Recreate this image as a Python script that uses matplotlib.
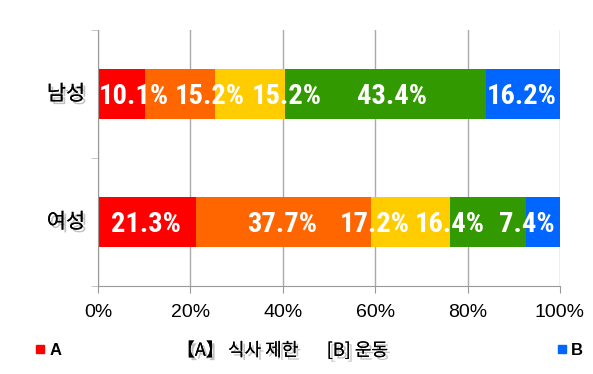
import matplotlib.pyplot as plt
import matplotlib.patheffects as pe
from matplotlib.lines import Line2D
import numpy as np

# data
groups = ['남성', '여성']
men = [10.1, 15.2, 15.2, 43.4, 16.2]
women = [21.3, 37.7, 17.2, 16.4, 7.4]
colors = ['#ff0000', '#ff6600', '#ffcc00', '#339900', '#0066ff']
# label anchor points (percent) as placed in the original chart
men_label_x = [7.8, 24.2, 40.9, 63.6, 91.8]
women_label_x = [10.4, 39.8, 60.0, 76.2, 92.9]
xticks = [0, 20, 40, 60, 80, 100]
xtick_labels = ['0%', '20%', '40%', '60%', '80%', '100%']

fig = plt.figure(figsize=(5.93, 3.74), dpi=100)
ax = fig.add_axes([98 / 593, 88 / 374, 462 / 593, 256 / 374])

shadow = [pe.withSimplePatchShadow(offset=(2, -2), shadow_rgbFace='#999999', alpha=0.6), pe.Normal()]
label_font = ['Roboto Condensed', 'Liberation Sans Narrow', 'Roboto', 'DejaVu Sans']

rows = [(1, men, men_label_x), (0, women, women_label_x)]
for y, vals, lab_x in rows:
    left = 0
    for v, c, lx in zip(vals, colors, lab_x):
        ax.barh(y, v, left=left, height=0.39, color=c, zorder=2)
        ax.text(lx, y - 0.02, f'{v:.1f}%', color='white', ha='center', va='center',
                fontsize=20.5, fontweight='bold', family=label_font, zorder=3)
        left += v

ax.set_xlim(0, 100)
ax.set_ylim(-0.5, 1.5)
ax.set_xticks(xticks)
ax.set_xticklabels(xtick_labels, family='Liberation Sans', fontsize=14)
ax.tick_params(axis='x', length=5, color='#999999', pad=8)
ax.grid(axis='x', color='#aaaaaa', lw=1, zorder=0)

ax.set_yticks([1, 0])
ax.set_yticklabels([])
ax.set_yticks([-0.5, 0.5, 1.5], minor=True)
ax.tick_params(axis='y', which='major', length=0)
ax.tick_params(axis='y', which='minor', length=5, color='#bbbbbb')
for y, g in zip([1, 0], groups):
    ax.text(-2.8, y, g, ha='right', va='center', fontsize=15, style='italic',
            family=['Noto Sans CJK KR', 'DejaVu Sans'], path_effects=shadow,
            transform=ax.transData, clip_on=False)

for s in ['top', 'right']:
    ax.spines[s].set_visible(False)
ax.spines['left'].set_color('#999999')
ax.spines['bottom'].set_color('#999999')

# legend row
h_a = Line2D([], [], marker='s', color=colors[0], ls='', markersize=6)
h_b = Line2D([], [], marker='s', color=colors[4], ls='', markersize=6)
fig.legend([h_a], ['A'], loc='center left', bbox_to_anchor=(0.035, 0.063), frameon=False,
           handlelength=0.5, handletextpad=0.3, prop={'family': 'Liberation Sans', 'size': 12, 'weight': 'bold'})
fig.legend([h_b], ['B'], loc='center left', bbox_to_anchor=(0.915, 0.063), frameon=False,
           handlelength=0.5, handletextpad=0.3, prop={'family': 'Liberation Sans', 'size': 12, 'weight': 'bold'})
fig.text(0.476, 0.063, '【A】 식사 제한       [B] 운동', ha='center', va='center', fontsize=13,
         style='italic', family=['Noto Sans CJK KR', 'DejaVu Sans'], path_effects=shadow)

fig.savefig('out.png', dpi=100)
